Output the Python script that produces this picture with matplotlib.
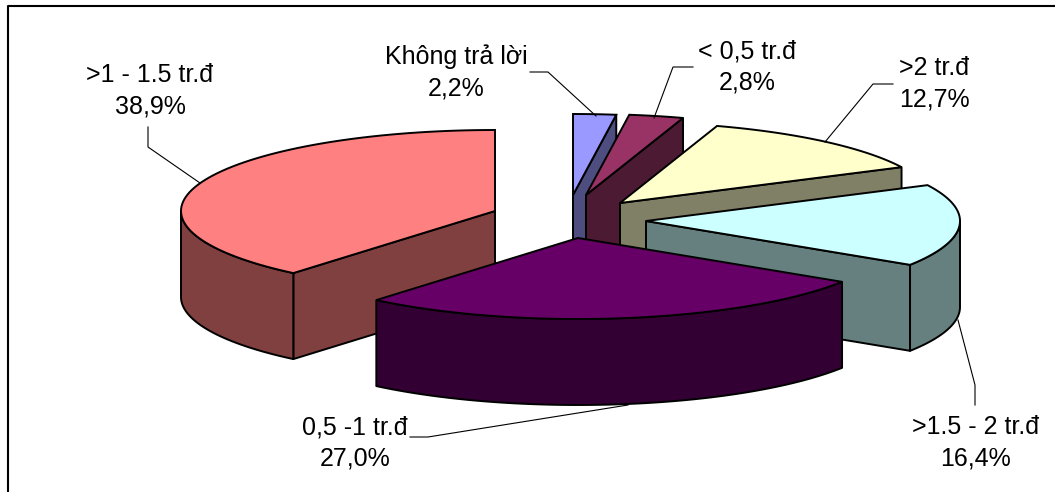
import numpy as np
import matplotlib
matplotlib.use("Agg")
import matplotlib.pyplot as plt

plt.rcParams['font.family'] = ['Liberation Sans', 'DejaVu Sans']

# Slices, clockwise from 12 o'clock
names = ['Không trả lời', '< 0,5 tr.đ', '>2 tr.đ', '>1.5 - 2 tr.đ', '0,5 -1 tr.đ', '>1 - 1.5 tr.đ']
values = [2.2, 2.8, 12.7, 16.4, 27.0, 38.9]
value_text = ['2,2%', '2,8%', '12,7%', '16,4%', '27,0%', '38,9%']
colors = ['#9999FF', '#993366', '#FFFFCC', '#CCFFFF', '#660066', '#FF8080']

# Layout in pixels
apex_x = [573, 586, 620, 646, 578, 495]
apex_y = [195, 195, 203, 221, 238, 211]
label_x = [456, 747, 934, 976, 355, 150]
label_y = [72, 67, 84, 443, 443, 91]
leader_x = [[530, 548, 596], [693, 673, 654], [893, 873, 825], [958, 975, 975], [410, 428, 628], [148, 148, 200]]
leader_y = [[72, 72, 116], [67, 67, 118], [84, 84, 142], [320, 385, 405], [437, 437, 405], [127, 147, 183]]
draw_order = [0, 1, 2, 3, 5, 4]
RX = 314
RY = 81
DEPTH = 86


def rim(cx, cy, a0, a1):
    t = np.radians(np.linspace(a0, a1, 80))
    return cx + RX * np.sin(t), cy - RY * np.cos(t)


def wall(ax, xs, ys, color):
    px = np.concatenate([xs, xs[::-1]])
    py = np.concatenate([ys, ys[::-1] + DEPTH])
    ax.fill(px, py, facecolor=color, edgecolor='black', linewidth=1.4, joinstyle='round')


def darker(color):
    rgb = np.array(matplotlib.colors.to_rgb(color)) * 0.5
    return tuple(rgb)


fig = plt.figure(figsize=(10.55, 4.92), dpi=100)
ax = fig.add_axes([0, 0, 1, 1])
ax.set_xlim(0, 1055)
ax.set_ylim(492, 0)
ax.axis('off')

# chart frame, runs off the right and bottom of the picture
ax.plot([8, 8, 1060], [497, 6, 6], color='black', linewidth=1.5)

edges = np.concatenate([[0], np.cumsum(values)]) / sum(values) * 360

for i in draw_order:
    a0, a1 = edges[i], edges[i + 1]
    cx, cy = apex_x[i], apex_y[i]
    shade = darker(colors[i])
    # radial walls, only those facing the viewer
    if np.sin(np.radians(a0)) < -1e-6:
        x, y = rim(cx, cy, a0, a0)
        wall(ax, np.array([cx, x[0]]), np.array([cy, y[0]]), shade)
    if np.sin(np.radians(a1)) > 1e-6:
        x, y = rim(cx, cy, a1, a1)
        wall(ax, np.array([cx, x[0]]), np.array([cy, y[0]]), shade)
    # outer rim, front half only
    lo, hi = max(a0, 90), min(a1, 270)
    if lo < hi:
        x, y = rim(cx, cy, lo, hi)
        wall(ax, x, y, shade)
    # top face
    x, y = rim(cx, cy, a0, a1)
    ax.fill(np.r_[cx, x], np.r_[cy, y], facecolor=colors[i], edgecolor='black', linewidth=1.4)

for i in range(len(names)):
    ax.plot(leader_x[i], leader_y[i], color='black', linewidth=0.8)
    ax.text(label_x[i], label_y[i], names[i] + '\n' + value_text[i], ha='center', va='center',
            fontsize=18, linespacing=1.4, color='black')

fig.savefig('out.png', dpi=100)
